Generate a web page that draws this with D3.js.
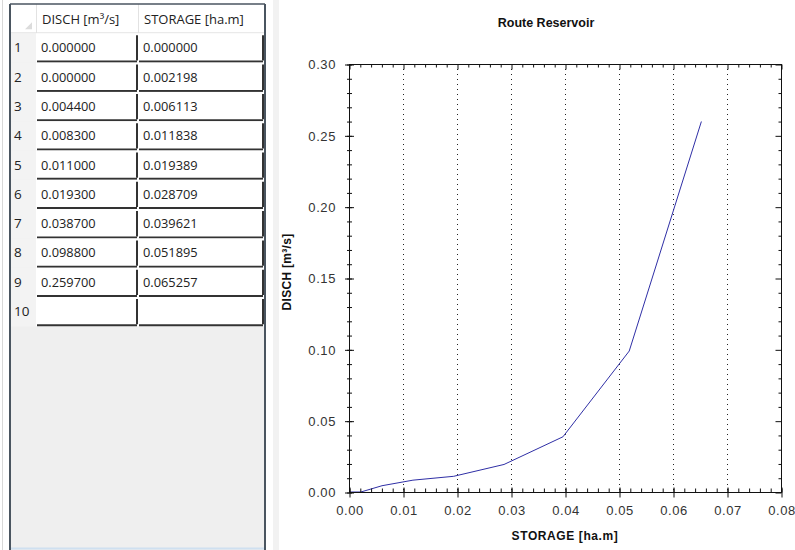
<!DOCTYPE html>
<html>
<head>
<meta charset="utf-8">
<script src="https://cdn.jsdelivr.net/npm/d3@7"></script>
<style>
  body { margin: 0; background: #fff; }
  svg { display: block; }
</style>
</head>
<body>
<svg id="chart" width="795" height="550"></svg>
<script>
// data (table + curve)
var disch = [0.000000, 0.000000, 0.004400, 0.008300, 0.011000, 0.019300, 0.038700, 0.098800, 0.259700];
var storage = [0.000000, 0.002198, 0.006113, 0.011838, 0.019389, 0.028709, 0.039621, 0.051895, 0.065257];
var colHeaders = ["DISCH [m\u00b3/s]", "STORAGE [ha.m]"];
var xTicks = [0, 0.01, 0.02, 0.03, 0.04, 0.05, 0.06, 0.07, 0.08];
var yTicks = [0, 0.05, 0.10, 0.15, 0.20, 0.25, 0.30];

var svg = d3.select("#chart");
var tableFont = "Open Sans, Noto Sans, sans-serif";
var chartFont = "Liberation Sans, Arial, sans-serif";

//---------- table panel ----------
var tbl = svg.append("g").attr("class", "table");
var tx = 10, ty = 4, rowH = 29.3;
var colX = [10, 36, 138, 264];

// outer light line and panel
tbl.append("line").attr("x1", 2.5).attr("x2", 2.5).attr("y1", 0).attr("y2", 550)
  .attr("stroke", "#d8d8d8");
tbl.append("rect").attr("x", tx).attr("y", ty).attr("width", 256).attr("height", 546)
  .attr("fill", "#efefef");
tbl.append("rect").attr("x", 273).attr("y", 0).attr("width", 6).attr("height", 550)
  .attr("fill", "#f2f2f2");

// header row
tbl.append("rect").attr("x", colX[0]).attr("y", ty).attr("width", colX[3] - colX[0]).attr("height", rowH)
  .attr("fill", "#fff");
tbl.append("path")
  .attr("d", "M" + (colX[1] - 4) + "," + (ty + rowH - 4) + "L" + (colX[1] - 4) + "," + (ty + rowH - 11) + "L" + (colX[1] - 11) + "," + (ty + rowH - 4) + "Z")
  .attr("fill", "#dcdcdc");
[colX[1], colX[2]].forEach(function(x) {
  tbl.append("line").attr("x1", x + 0.5).attr("x2", x + 0.5).attr("y1", ty).attr("y2", ty + rowH)
    .attr("stroke", "#e2e2e2");
});
tbl.append("line").attr("x1", colX[0]).attr("x2", colX[3]).attr("y1", ty + rowH - 0.5).attr("y2", ty + rowH - 0.5)
  .attr("stroke", "#e2e2e2");
tbl.selectAll(".hdr").data(colHeaders).enter().append("text")
  .attr("x", function(d, i) { return colX[i + 1] + 6; })
  .attr("y", ty + 20)
  .attr("font-family", tableFont)
  .attr("font-size", 13)
  .attr("fill", "#222")
  .text(function(d) { return d; });

// data rows (9 values + one empty row)
var rows = d3.range(disch.length + 1);
var rowG = tbl.selectAll(".row").data(rows).enter().append("g")
  .attr("transform", function(d) { return "translate(0," + (ty + rowH * (d + 1)) + ")"; });

rowG.append("rect").attr("x", colX[0]).attr("y", 0).attr("width", colX[1] - colX[0]).attr("height", rowH)
  .attr("fill", "#f3f3f3");
rowG.append("text")
  .attr("x", colX[0] + 4).attr("y", 19)
  .attr("font-family", tableFont)
  .attr("font-size", 13.5)
  .attr("fill", "#222")
  .text(function(d) { return d + 1; });

[0, 1].forEach(function(c) {
  var x0 = colX[c + 1], x1 = colX[c + 2];
  rowG.append("rect").attr("x", x0).attr("y", 0).attr("width", x1 - x0).attr("height", rowH)
    .attr("fill", "#fff");
  rowG.append("line").attr("x1", x0 + 1).attr("x2", x1 - 1).attr("y1", rowH - 1).attr("y2", rowH - 1)
    .attr("stroke", "#333").attr("stroke-width", 2);
  rowG.append("line").attr("x1", x1 - 1).attr("x2", x1 - 1).attr("y1", 2).attr("y2", rowH - 2)
    .attr("stroke", "#333").attr("stroke-width", 2);
  rowG.append("text")
    .attr("x", x0 + 5).attr("y", 19)
    .attr("font-family", tableFont)
    .attr("font-size", 12.8)
    .attr("fill", "#222")
    .text(function(d) {
      if (d >= disch.length) return "";
      return (c == 0 ? disch[d] : storage[d]).toFixed(6);
    });
});

// panel border
tbl.append("line").attr("x1", tx).attr("x2", tx).attr("y1", ty).attr("y2", 550)
  .attr("stroke", "#4a5560").attr("stroke-width", 2);
tbl.append("line").attr("x1", 265).attr("x2", 265).attr("y1", ty).attr("y2", 550)
  .attr("stroke", "#4a5560").attr("stroke-width", 2);
tbl.append("line").attr("x1", tx).attr("x2", 265).attr("y1", ty).attr("y2", ty)
  .attr("stroke", "#4a5560").attr("stroke-width", 1.5);
tbl.append("line").attr("x1", tx + 1).attr("x2", 264).attr("y1", 548.5).attr("y2", 548.5)
  .attr("stroke", "#cfe0f0").attr("stroke-width", 2);

//---------- chart ----------
var pLeft = 349, pRight = 781, pTop = 64, pBottom = 492;
var x = d3.scaleLinear().domain([0, 0.08]).range([pLeft, pRight]);
var y = d3.scaleLinear().domain([0, 0.30]).range([pBottom, pTop]);
var chart = svg.append("g").attr("class", "chart");

// dotted vertical grid
chart.selectAll(".grid").data(xTicks.slice(1, -1)).enter().append("line")
  .attr("x1", function(d) { return Math.round(x(d)) + 0.5; })
  .attr("x2", function(d) { return Math.round(x(d)) + 0.5; })
  .attr("y1", pTop).attr("y2", pBottom)
  .attr("stroke", "#222").attr("stroke-dasharray", "1,4");

// curve
var pts = storage.map(function(s, i) { return [s, disch[i]]; });
chart.append("path")
  .datum(pts)
  .attr("fill", "none")
  .attr("stroke", "#2f2fa6")
  .attr("stroke-width", 1)
  .attr("d", d3.line().x(function(d) { return x(d[0]); }).y(function(d) { return y(d[1]); }));

// frame
chart.append("rect").attr("x", pLeft + 0.5).attr("y", pTop + 0.5)
  .attr("width", pRight - pLeft).attr("height", pBottom - pTop)
  .attr("fill", "none").attr("stroke", "#111").attr("stroke-width", 1);

var xMinor = d3.range(0, 0.0801, 0.002);
var yMinor = d3.range(0, 0.3001, 0.01);

// bottom + top axes
var gB = chart.append("g").attr("transform", "translate(0.5," + (pBottom + 0.5) + ")")
  .call(d3.axisBottom(x).tickValues(xMinor).tickSize(0).tickFormat(""));
gB.select(".domain").remove();
gB.selectAll(".tick line").attr("y2", -4).attr("stroke", "#111");
var gB2 = chart.append("g").attr("transform", "translate(0.5," + (pBottom + 0.5) + ")")
  .call(d3.axisBottom(x).tickValues(xTicks).tickSize(5).tickPadding(8).tickFormat(d3.format(".2f")));
gB2.select(".domain").remove();
gB2.selectAll(".tick line").attr("y1", -5).attr("stroke", "#111");

var gT = chart.append("g").attr("transform", "translate(0.5," + (pTop + 0.5) + ")")
  .call(d3.axisTop(x).tickValues(xMinor).tickSize(0).tickFormat(""));
gT.select(".domain").remove();
gT.selectAll(".tick line").attr("y2", function(d) {
  return Math.abs(d * 100 - Math.round(d * 100)) < 1e-6 ? 5 : 3;
}).attr("stroke", "#111");

// left + right axes
var gL = chart.append("g").attr("transform", "translate(" + (pLeft + 0.5) + ",0.5)")
  .call(d3.axisLeft(y).tickValues(yMinor).tickSize(0).tickFormat(""));
gL.select(".domain").remove();
gL.selectAll(".tick line").attr("x1", -2.5).attr("x2", 2.5).attr("stroke", "#111");
var gL2 = chart.append("g").attr("transform", "translate(" + (pLeft + 0.5) + ",0.5)")
  .call(d3.axisLeft(y).tickValues(yTicks).tickSize(4.5).tickPadding(9).tickFormat(d3.format(".2f")));
gL2.select(".domain").remove();
gL2.selectAll(".tick line").attr("x1", 4.5).attr("stroke", "#111");

var gR = chart.append("g").attr("transform", "translate(" + (pRight + 0.5) + ",0.5)")
  .call(d3.axisRight(y).tickValues(yMinor).tickSize(0).tickFormat(""));
gR.select(".domain").remove();
gR.selectAll(".tick line").attr("x2", function(d) {
  return Math.abs(d * 20 - Math.round(d * 20)) < 1e-6 ? -6 : -3;
}).attr("stroke", "#111");

chart.selectAll(".tick text")
  .attr("font-family", chartFont)
  .attr("font-size", 13)
  .attr("letter-spacing", 0.6)
  .attr("fill", "#333");

// titles
chart.append("text").attr("x", 546).attr("y", 27).attr("text-anchor", "middle")
  .attr("font-family", chartFont).attr("font-size", 12.5)
  .attr("font-weight", "bold").attr("fill", "#111").text("Route Reservoir");
chart.append("text").attr("x", 565).attr("y", 540).attr("text-anchor", "middle")
  .attr("font-family", chartFont).attr("font-size", 12)
  .attr("letter-spacing", 0.6)
  .attr("font-weight", "bold").attr("fill", "#111").text("STORAGE [ha.m]");
chart.append("text")
  .attr("transform", "translate(291,272) rotate(-90)")
  .attr("text-anchor", "middle")
  .attr("font-family", chartFont).attr("font-size", 12)
  .attr("letter-spacing", 0.3)
  .attr("font-weight", "bold").attr("fill", "#111").text("DISCH [m\u00b3/s]");
</script>
</body>
</html>
